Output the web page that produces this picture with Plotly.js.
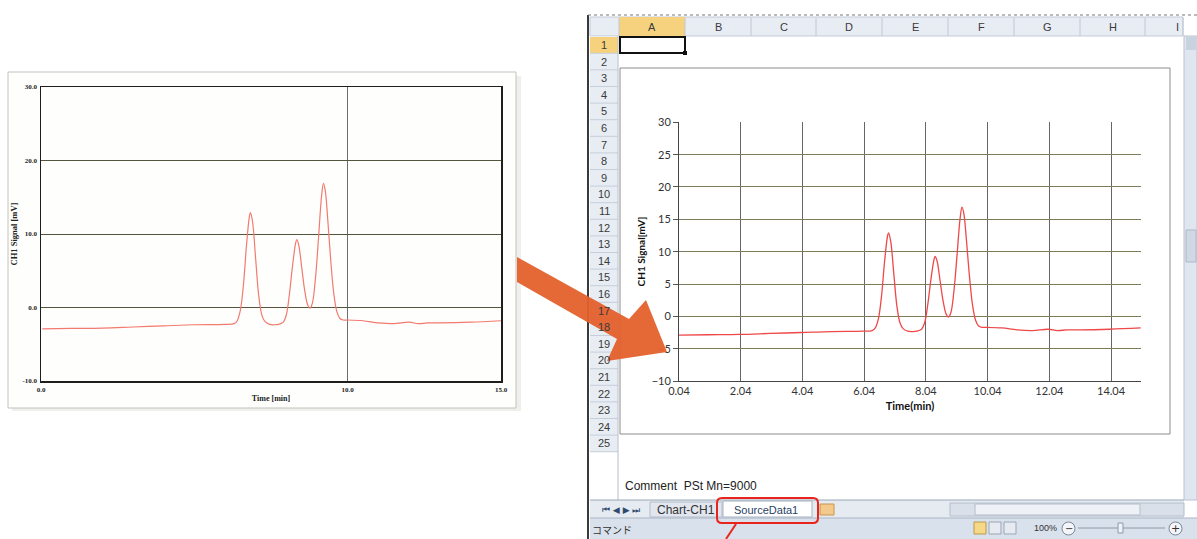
<!DOCTYPE html>
<html><head><meta charset="utf-8">
<script src="https://cdn.plot.ly/plotly-3.0.1.min.js"></script>
<style>html,body{margin:0;padding:0;background:#fff;}#chart{width:1197px;height:539px;}</style>
</head><body><div id="chart"></div>
<script>
// ---- chromatogram ----
const timeMin = [0.04, 1.0, 2.0, 3.0, 4.0, 5.0, 6.0, 6.3, 6.4, 6.5, 6.6, 6.7, 6.8, 6.83, 6.9, 7.0, 7.1, 7.2, 7.3, 7.45, 7.6, 7.75, 7.9, 8.0, 8.1, 8.2, 8.3, 8.34, 8.4, 8.5, 8.6, 8.7, 8.77, 8.85, 8.95, 9.05, 9.15, 9.21, 9.27, 9.35, 9.45, 9.55, 9.65, 9.75, 9.85, 10.0, 10.5, 11.0, 11.5, 12.0, 12.3, 12.6, 13.0, 14.0, 15.0];
const signalMv = [-2.9, -2.85, -2.8, -2.65, -2.5, -2.35, -2.3, -2.2, -1.8, -0.4, 3.0, 8.4, 12.5, 12.9, 11.6, 6.6, 1.6, -1.0, -1.9, -2.3, -2.35, -2.3, -2.0, -1.0, 1.8, 5.6, 8.7, 9.25, 8.6, 5.5, 2.3, 0.3, -0.1, 0.6, 4.0, 9.5, 15.2, 16.9, 15.9, 12.0, 6.3, 1.8, -0.6, -1.5, -1.7, -1.7, -1.8, -2.1, -2.2, -2.0, -2.2, -2.1, -2.1, -2.0, -1.8];

// left (instrument software) chart ticks
const leftYTicks = [-10, 0, 10, 20, 30];
const leftYTickText = ['-10.0', '0.0', '10.0', '20.0', '30.0'];
const leftXTicks = [0, 10, 15];
const leftXTickText = ['0.0', '10.0', '15.0'];
// right (Excel) chart ticks
const rightXTicks = [0.04, 2.04, 4.04, 6.04, 8.04, 10.04, 12.04, 14.04];
const rightXTickText = ['0.04', '2.04', '4.04', '6.04', '8.04', '10.04', '12.04', '14.04'];
const rightYTicks = [-10, -5, 0, 5, 10, 15, 20, 25, 30];
// Excel sheet texts
const excelColumns = ['A', 'B', 'C', 'D', 'E', 'F', 'G', 'H', 'I'];
const excelRows = [1, 2, 3, 4, 5, 6, 7, 8, 9, 10, 11, 12, 13, 14, 15, 16, 17, 18, 19, 20, 21, 22, 23, 24, 25];
const commentText = 'Comment&nbsp;&nbsp;PSt Mn=9000';
const sheetTabs = ['Chart-CH1', 'SourceData1'];
const statusText = 'コマンド';
const zoomText = '100%';

// ---- helpers (pixel -> paper) ----
const W = 1197, H = 539;
const px = x => x / W, py = y => 1 - y / H;
function rect(x0, y0, x1, y1, o) {
  return Object.assign({type: 'rect', xref: 'paper', yref: 'paper', x0: px(x0), x1: px(x1), y0: py(y1), y1: py(y0), line: {width: 0}, layer: 'below'}, o || {});
}
function line(x0, y0, x1, y1, color, width, o) {
  return Object.assign({type: 'line', xref: 'paper', yref: 'paper', x0: px(x0), x1: px(x1), y0: py(y0), y1: py(y1), line: {color: color, width: width}, layer: 'below'}, o || {});
}
function poly(pts, fill, o) {
  const d = pts.map((p, i) => (i ? 'L' : 'M') + px(p[0]).toFixed(5) + ',' + py(p[1]).toFixed(5)).join(' ') + ' Z';
  return Object.assign({type: 'path', xref: 'paper', yref: 'paper', path: d, fillcolor: fill, line: {width: 0}, layer: 'above'}, o || {});
}
function txt(x, y, text, font, o) {
  return Object.assign({xref: 'paper', yref: 'paper', x: px(x), y: py(y), text: text, showarrow: false, xanchor: 'center', yanchor: 'middle', font: font}, o || {});
}

const shapes = [];
const ann = [];

// left paper card
shapes.push(rect(12, 76, 521, 411, {fillcolor: '#efefec'}));
shapes.push(rect(8, 72, 516, 408, {fillcolor: '#fefefd', line: {color: '#c2c2bd', width: 1}}));

// Excel window
shapes.push(rect(588, 15, 1197, 539, {fillcolor: '#ffffff'}));
shapes.push(rect(590, 17, 1183, 36, {fillcolor: '#e8edf4', line: {color: '#c3cbd6', width: 1}}));
shapes.push(rect(619, 17, 685, 36, {fillcolor: '#f7d27e'}));
const colEdges = [619, 685, 751, 816, 882, 948, 1014, 1080, 1145, 1183];
colEdges.forEach(x => shapes.push(line(x, 18, x, 36, '#c0c8d3', 1)));
shapes.push(rect(590, 36, 618, 452, {fillcolor: '#e8edf4'}));
shapes.push(rect(590, 37, 618, 53, {fillcolor: '#f7d27e'}));
excelRows.forEach((r, i) => shapes.push(line(590, 53.3 + i * 16.6, 618, 53.3 + i * 16.6, '#c6ced9', 1)));
shapes.push(line(618, 36, 618, 500, '#b8c0cc', 1));
shapes.push(rect(620, 37, 685, 53, {line: {color: '#111', width: 2}}));
shapes.push(rect(683, 51, 687, 55, {fillcolor: '#111'}));
shapes.push(line(588, 15, 588, 539, '#3a3a3a', 2));
shapes.push(line(588, 15, 1197, 15, '#777', 1, {line: {color: '#777', width: 1, dash: 'dot'}}));
// vertical scrollbar
shapes.push(rect(1184, 36, 1197, 500, {fillcolor: '#dfe6ef', line: {color: '#b9c3d0', width: 1}}));
shapes.push(rect(1186, 37, 1196, 50, {fillcolor: '#c9d3e0'}));
shapes.push(rect(1186, 230, 1196, 262, {fillcolor: '#cfd8e4', line: {color: '#aeb9c8', width: 1}}));
// chart area frame
shapes.push(rect(620, 68, 1170, 434, {fillcolor: '#ffffff', line: {color: '#8c8c8c', width: 1}}));
// sheet tab bar and status bar
shapes.push(rect(590, 500, 1184, 518, {fillcolor: '#e6ebf2'}));
shapes.push(line(590, 500, 1184, 500, '#9aa6b6', 1));
shapes.push(rect(650, 502, 722, 517, {fillcolor: '#e2e7ef', line: {color: '#b3bdcb', width: 1}}));
shapes.push(rect(723, 501, 812, 517, {fillcolor: '#ffffff', line: {color: '#a7b2c2', width: 1}}));
shapes.push(rect(820, 504, 834, 515, {fillcolor: '#f3c98c', line: {color: '#c9964d', width: 1}}));
shapes.push(rect(950, 503, 1184, 516, {fillcolor: '#d9e0ea', line: {color: '#b3bdca', width: 1}}));
shapes.push(rect(975, 504, 1140, 515, {fillcolor: '#eef1f6', line: {color: '#b3bdca', width: 1}}));
shapes.push(rect(590, 518, 1197, 539, {fillcolor: '#d9e1ec'}));
shapes.push(line(590, 518, 1197, 518, '#aab5c4', 1));
shapes.push(rect(974, 522, 986, 534, {fillcolor: '#f6d889', line: {color: '#b99a4c', width: 1}}));
shapes.push(rect(989, 522, 1001, 534, {fillcolor: '#e7ebf1', line: {color: '#9aa5b5', width: 1}}));
shapes.push(rect(1004, 522, 1016, 534, {fillcolor: '#e7ebf1', line: {color: '#9aa5b5', width: 1}}));
shapes.push(line(1078, 528, 1165, 528, '#8e99a8', 1));
shapes.push(rect(1118, 523, 1123, 533, {fillcolor: '#eef1f6', line: {color: '#8e99a8', width: 1}}));
shapes.push({type: 'circle', xref: 'paper', yref: 'paper', x0: px(1062), x1: px(1075), y0: py(535), y1: py(522), fillcolor: '#f3f5f8', line: {color: '#7d8898', width: 1}, layer: 'below'});
shapes.push({type: 'circle', xref: 'paper', yref: 'paper', x0: px(1169), x1: px(1182), y0: py(535), y1: py(522), fillcolor: '#f3f5f8', line: {color: '#7d8898', width: 1}, layer: 'below'});
// red callout box + line
shapes.push({type: 'path', xref: 'paper', yref: 'paper', layer: 'above', line: {color: '#e8241c', width: 2},
  path: (() => { const r = 5, x0 = 717, x1 = 818, y0 = 498, y1 = 523;
    const P = (x, y) => px(x).toFixed(5) + ',' + py(y).toFixed(5);
    return 'M' + P(x0 + r, y0) + ' L' + P(x1 - r, y0) + ' Q' + P(x1, y0) + ' ' + P(x1, y0 + r) + ' L' + P(x1, y1 - r) + ' Q' + P(x1, y1) + ' ' + P(x1 - r, y1) +
      ' L' + P(x0 + r, y1) + ' Q' + P(x0, y1) + ' ' + P(x0, y1 - r) + ' L' + P(x0, y0 + r) + ' Q' + P(x0, y0) + ' ' + P(x0 + r, y0) + ' Z'; })()});
shapes.push(line(736, 524, 726, 539, '#e8241c', 2, {layer: 'above'}));

// orange arrow
shapes.push(poly([[517, 257], [629, 319], [646, 300], [667, 352], [607, 361], [617, 339], [517, 282]], 'rgba(228,96,44,0.95)'));

// Excel texts
const cfont = {family: 'Liberation Sans, Arial, sans-serif', size: 11, color: '#3a3a3a'};
excelColumns.forEach((c, i) => {
  const xc = i < 8 ? (colEdges[i] + colEdges[i + 1]) / 2 : 1177;
  ann.push(txt(xc, 27, c, cfont));
});
excelRows.forEach((r, i) => ann.push(txt(604, 45 + i * 16.6, String(r), cfont)));
ann.push(txt(623, 486, commentText, {family: 'Liberation Sans, Arial, sans-serif', size: 12, color: '#222'}, {xanchor: 'left'}));
ann.push(txt(621, 510, '⏮ ◀ ▶ ⏭', {family: 'DejaVu Sans', size: 9, color: '#2f4a6e'}));
ann.push(txt(686, 510, sheetTabs[0], {family: 'Liberation Sans, Arial, sans-serif', size: 12, color: '#333'}));
ann.push(txt(766, 510, sheetTabs[1], {family: 'Liberation Sans, Arial, sans-serif', size: 11, color: '#2a3f66'}));
ann.push(txt(612, 529, statusText, {family: 'Noto Sans CJK JP', size: 10, color: '#333'}));
ann.push(txt(1045, 528, zoomText, {family: 'Liberation Sans, Arial, sans-serif', size: 9, color: '#333'}));
ann.push(txt(1068.5, 528.5, '−', {family: 'DejaVu Sans', size: 10, color: '#333'}));
ann.push(txt(1175.5, 528.5, '+', {family: 'DejaVu Sans', size: 11, color: '#333'}));

// ---- traces ----
const traces = [
  {x: timeMin, y: signalMv, xaxis: 'x', yaxis: 'y', type: 'scatter', mode: 'lines', line: {color: '#f27a6e', width: 1.2, shape: 'spline'}, hoverinfo: 'skip'},
  {x: timeMin, y: signalMv, xaxis: 'x2', yaxis: 'y2', type: 'scatter', mode: 'lines', line: {color: '#ee4848', width: 1.3, shape: 'spline'}, hoverinfo: 'skip'}
];

const serifBold = {family: 'Liberation Serif, DejaVu Serif, serif', size: 7, color: '#222', weight: 700};
const layout = {
  width: W, height: H, margin: {l: 0, r: 0, t: 0, b: 0},
  paper_bgcolor: '#ffffff', plot_bgcolor: 'rgba(0,0,0,0)', showlegend: false,
  xaxis: {domain: [px(41), px(501)], anchor: 'y', range: [0, 15], tickvals: leftXTicks, ticktext: leftXTickText,
    showgrid: true, gridcolor: '#6d6d6d', gridwidth: 1, zeroline: false, showline: true, linecolor: '#1e1e1e', linewidth: 1.5, mirror: true,
    ticks: '', tickfont: serifBold, ticklabelstandoff: 1,
    title: {text: 'Time [min]', font: Object.assign({}, serifBold, {size: 8}), standoff: 2}},
  yaxis: {domain: [py(381), py(87)], anchor: 'x', range: [-10, 30], tickvals: leftYTicks, ticktext: leftYTickText,
    showgrid: true, gridcolor: '#55553f', gridwidth: 1, zeroline: false, showline: true, linecolor: '#1e1e1e', linewidth: 1.5, mirror: true,
    ticks: '', tickfont: serifBold, ticklabelstandoff: 1,
    title: {text: 'CH1 Signal [mV]', font: Object.assign({}, serifBold, {size: 8.5}), standoff: 3}},
  xaxis2: {domain: [px(679), px(1141)], anchor: 'y2', range: [0.04, 15.01], tickvals: rightXTicks, ticktext: rightXTickText,
    showgrid: true, gridcolor: '#666666', gridwidth: 1, zeroline: false, showline: true, linecolor: '#444', linewidth: 1,
    ticks: '', tickfont: {family: 'Lato, Open Sans, sans-serif', size: 11, color: '#333'},
    title: {text: 'Time(min)', font: {family: 'Lato, Open Sans, sans-serif', size: 11, color: '#111', weight: 700}, standoff: 6}},
  yaxis2: {domain: [py(381), py(122)], anchor: 'x2', range: [-10, 30.05], tickvals: rightYTicks,
    showgrid: true, gridcolor: '#7d7d5e', gridwidth: 1, zeroline: false, showline: true, linecolor: '#444', linewidth: 1,
    ticks: 'outside', ticklen: 5, tickcolor: '#555', tickfont: {family: 'Lato, Open Sans, sans-serif', size: 11, color: '#333'},
    title: {text: 'CH1 Signal[mV]', font: {family: 'Lato, Open Sans, sans-serif', size: 10, color: '#111', weight: 700}, standoff: 4}},
  shapes: shapes,
  annotations: ann
};

Plotly.newPlot('chart', traces, layout, {displayModeBar: false, staticPlot: true});
</script>
</body></html>
